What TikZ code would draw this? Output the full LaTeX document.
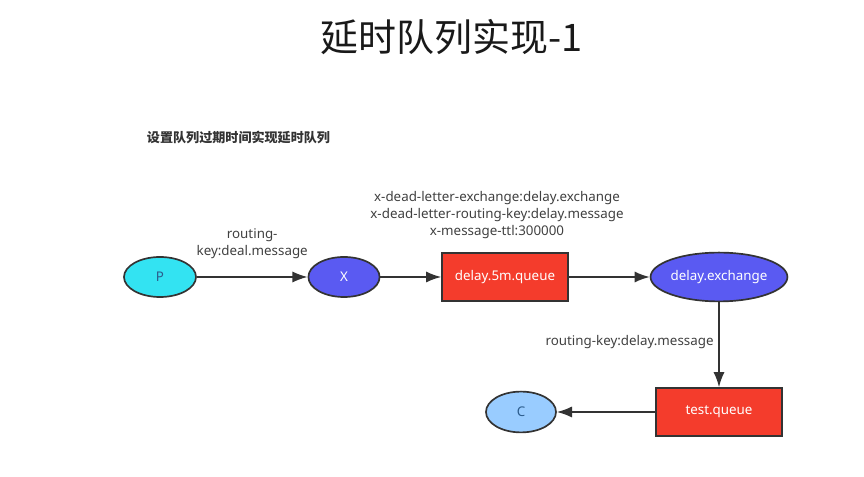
\documentclass[tikz,border=0pt]{standalone}
\usepackage{fontspec}
\setmainfont{Noto Sans}
\newfontfamily\cjk{Noto Sans CJK SC}
\usepackage{tikz}
\usetikzlibrary{arrows.meta,shapes.geometric,positioning}
\tikzset{>={Latex[length=3.8mm,width=2.8mm]}}
\definecolor{pcyan}{HTML}{33E3F2}
\definecolor{xblue}{HTML}{5A5AF2}
\definecolor{qred}{HTML}{F43C2C}
\definecolor{clight}{HTML}{99CCFF}
\definecolor{txtblue}{HTML}{2C5C8C}
\definecolor{linegray}{HTML}{333333}
\tikzset{
  ell/.style={ellipse, draw=linegray, line width=1.2pt, inner sep=0pt},
  queuebox/.style={rectangle, draw=linegray, line width=1.1pt, fill=qred, text=white,
    minimum width=3.15cm, minimum height=1.2cm},
  flow/.style={->, draw=linegray, line width=1.1pt},
  lbl/.style={text=black!75, font=\fontsize{9.5}{12}\selectfont, align=center}
}
\begin{document}
\begin{tikzpicture}[x=0.025cm, y=-0.025cm, font=\fontsize{9.5}{12}\selectfont]
                \useasboundingbox (0,0) rectangle (864,477);

                \node[font=\cjk\fontsize{27}{31}\selectfont, text=black!90] (title) at (452,37) {延时队列实现-1};
                \node[font=\cjk\bfseries\fontsize{9.3}{11}\selectfont, anchor=west, text=black!80] (sub) at (142,137) {设置队列过期时间实现延时队列};

                \node[ell, fill=pcyan, text=txtblue, minimum width=1.8cm, minimum height=1cm] (P) at (160,277) {P};
                \node[ell, fill=xblue, text=white, minimum width=1.78cm, minimum height=1cm] (X) at (344,277) {X};
                \node[queuebox] (delayq) at (505,277) {delay.5m.queue};
                \node[ell, fill=xblue, text=white, minimum width=3.1cm, minimum height=1.22cm] (delayx) at (719,277) {delay.exchange};
                \node[queuebox] (testq) at (719,412) {test.queue};
                \node[ell, fill=clight, text=txtblue, minimum width=1.75cm, minimum height=1.02cm] (C) at (521,412) {C};

                \draw[flow] (P) -- node[lbl, above=9pt] (rk1) {routing-\\key:deal.message} (X);
                \draw[flow] (X) -- (delayq);
                \draw[flow] (delayq) -- (delayx);
                \draw[flow] (delayx) -- node[lbl, left=0pt, pos=0.47] (rk2) {routing-key:delay.message} (testq);
                \draw[flow] (testq) -- (C);

                \node[lbl] (args) at (497,215) {x-dead-letter-exchange:delay.exchange\\x-dead-letter-routing-key:delay.message\\x-message-ttl:300000};
            \end{tikzpicture}
\end{document}
